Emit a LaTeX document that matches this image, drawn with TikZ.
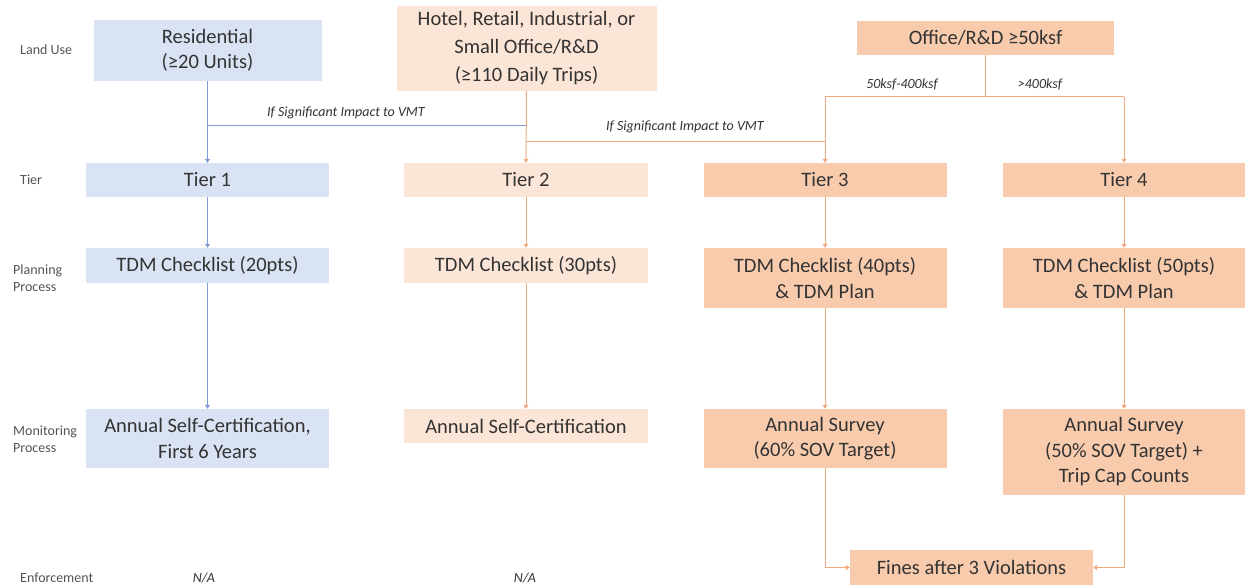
\documentclass[tikz,border=0pt]{standalone}
\usepackage{fontspec}
\setmainfont{Carlito}
\usetikzlibrary{arrows.meta}
\definecolor{bluefill}{HTML}{DAE3F3}
\definecolor{peach}{HTML}{FBE5D6}
\definecolor{orangefill}{HTML}{F8CBAD}
\definecolor{blueline}{HTML}{7F9BD0}
\definecolor{orangeline}{HTML}{F0AA7E}
\definecolor{txt}{HTML}{333333}
\definecolor{lbl}{HTML}{555555}
\begin{document}
\begin{tikzpicture}[x=1pt,y=-1pt,
  boxbase/.style={draw=none, inner sep=0pt, align=center, text=txt,
    font=\fontsize{20.5}{25.5}\selectfont},
  bbox/.style={boxbase, fill=bluefill},
  pbox/.style={boxbase, fill=peach},
  obox/.style={boxbase, fill=orangefill},
  rowlbl/.style={anchor=west, align=left, text=lbl, inner sep=0pt,
    font=\fontsize{14}{17}\selectfont},
  itlbl/.style={text=txt, inner sep=0pt, font=\fontsize{14}{16}\selectfont\itshape},
  tip/.style={-{Triangle[width=5pt,length=4pt]}},
  bl/.style={draw=blueline, line width=1pt},
  ol/.style={draw=orangeline, line width=1pt}
]
\useasboundingbox (0,0) rectangle (1246,588);
\fill[white] (0,0) rectangle (1246,588);

% row labels
\node[rowlbl] (lu) at (20,50) {Land Use};
\node[rowlbl] (ti) at (20,180) {Tier};
\node[rowlbl] (pp) at (13,278) {Planning\\Process};
\node[rowlbl] (mp) at (13,439) {Monitoring\\Process};
\node[rowlbl] (en) at (20,578) {Enforcement};
\node[itlbl] (na1) at (204,578) {N/A};
\node[itlbl] (na2) at (525,578) {N/A};

% land use
\node[bbox, minimum width=228pt, minimum height=61pt] (res) at (207.5,50.5) {Residential\\(≥20 Units)};
\node[pbox, minimum width=260pt, minimum height=85pt, font=\fontsize{20.5}{28}\selectfont] (hotel) at (526.5,48.5) {Hotel, Retail, Industrial, or\\Small Office/R\&D\\(≥110 Daily Trips)};
\node[obox, minimum width=257pt, minimum height=34pt] (office) at (985.5,38) {Office/R\&D ≥50ksf};

% tiers
\node[bbox, minimum width=243pt, minimum height=34pt] (t1) at (207.5,180) {Tier 1};
\node[pbox, minimum width=244pt, minimum height=34pt] (t2) at (526,180) {Tier 2};
\node[obox, minimum width=243pt, minimum height=34pt] (t3) at (825,180) {Tier 3};
\node[obox, minimum width=242pt, minimum height=34pt] (t4) at (1124,180) {Tier 4};

% planning
\node[bbox, minimum width=243pt, minimum height=35pt] (p1) at (207.5,265.5) {TDM Checklist (20pts)};
\node[pbox, minimum width=244pt, minimum height=35pt] (p2) at (526,265.5) {TDM Checklist (30pts)};
\node[obox, minimum width=243pt, minimum height=60pt] (p3) at (825,278) {TDM Checklist (40pts)\\\& TDM Plan};
\node[obox, minimum width=242pt, minimum height=60pt] (p4) at (1124,278) {TDM Checklist (50pts)\\\& TDM Plan};

% monitoring
\node[bbox, minimum width=243pt, minimum height=59pt] (m1) at (207.5,438.5) {Annual Self-Certification,\\First 6 Years};
\node[pbox, minimum width=244pt, minimum height=34pt] (m2) at (526,426) {Annual Self-Certification};
\node[obox, minimum width=243pt, minimum height=59pt] (m3) at (825,438.5) {Annual Survey\\(60\% SOV Target)};
\node[obox, minimum width=242pt, minimum height=86pt] (m4) at (1124,452) {Annual Survey\\(50\% SOV Target) +\\Trip Cap Counts};

% enforcement
\node[obox, minimum width=243pt, minimum height=35pt] (fines) at (971.5,567.5) {Fines after 3 Violations};

% helper coordinates
\coordinate (h1) at (0,126);
\coordinate (h2) at (0,142);
\coordinate (hb) at (0,97);
\coordinate (hf) at (0,567.5);

% column 1
\draw[bl, tip] (res.south) -- (t1.north);
\draw[bl, tip] (t1.south) -- (p1.north);
\draw[bl, tip] (p1.south) -- (m1.north);
\draw[bl] (res.south |- h1) -- (t2.north |- h1);
\node[itlbl] (sig1) at (346,113) {If Significant Impact to VMT};

% column 2
\draw[ol, tip] (hotel.south) -- (t2.north);
\draw[ol, tip] (t2.south) -- (p2.north);
\draw[ol, tip] (p2.south) -- (m2.north);
\draw[ol] (t2.north |- h2) -- (t3.north |- h2);
\node[itlbl] (sig2) at (685,127) {If Significant Impact to VMT};

% office branch
\draw[ol] (office.south) -- (office.south |- hb);
\draw[ol, tip] (t3.north |- hb) -- (t3.north);
\draw[ol, tip] (t4.north |- hb) -- (t4.north);
\draw[ol] (t3.north |- hb) -- (t4.north |- hb);
\node[itlbl] (k1) at (902,84) {50ksf-400ksf};
\node[itlbl] (k2) at (1040,84) {>400ksf};

% columns 3 and 4
\draw[ol, tip] (t3.south) -- (p3.north);
\draw[ol, tip] (p3.south) -- (m3.north);
\draw[ol, tip] (t4.south) -- (p4.north);
\draw[ol, tip] (p4.south) -- (m4.north);

% to fines
\draw[ol, tip] (m3.south) -- (m3.south |- hf) -- (fines.west);
\draw[ol, tip] (m4.south) -- (m4.south |- hf) -- (fines.east);
\end{tikzpicture}
\end{document}
